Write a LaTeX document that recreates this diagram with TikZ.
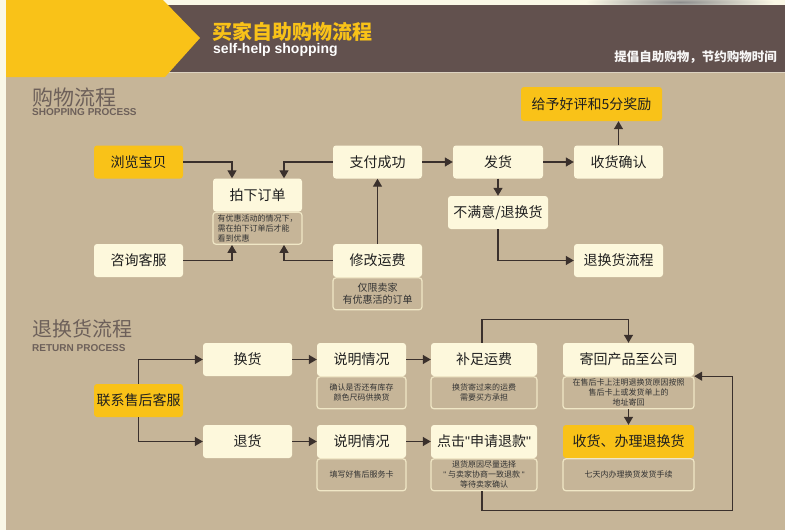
\documentclass[tikz,border=0pt]{standalone}
\usepackage{fontspec}
\setmainfont{Noto Sans CJK SC}
\newfontfamily\enfont{Liberation Sans}
\usetikzlibrary{calc,positioning,arrows.meta}

\definecolor{pagecream}{HTML}{FAF8E6}
\definecolor{bgtan}{HTML}{C6B598}
\definecolor{headbrown}{HTML}{62514E}
\definecolor{gold}{HTML}{F9C218}
\definecolor{boxcream}{HTML}{FDF8DC}
\definecolor{noteline}{HTML}{F0E7C6}
\definecolor{ink}{HTML}{3A302C}
\definecolor{titlegray}{HTML}{6D605A}

\newcommand\dq{{\enfont"}}

\tikzset{
  stepbox/.style={fill=boxcream, rounded corners=3pt, minimum width=89pt, minimum height=33pt,
    inner sep=0pt, text=black!88, font=\fontsize{14pt}{16pt}\selectfont},
  goldbox/.style={stepbox, fill=gold},
  notebox/.style={draw=noteline, line width=1.2pt, fill=bgtan, rounded corners=3pt,
    minimum width=89pt, minimum height=32pt, inner sep=0pt, anchor=north, align=center,
    text=black!80, font=\fontsize{8pt}{10pt}\selectfont},
  flow/.style={draw=ink, line width=1.3pt, -{Triangle[length=8pt,width=9pt]}},
  sectitle/.style={anchor=base west, inner sep=0pt, text=titlegray, font=\fontsize{21pt}{21pt}\selectfont},
  secsub/.style={anchor=base west, inner sep=0pt, text=titlegray, font=\enfont\bfseries\fontsize{10pt}{10pt}\selectfont},
}

\begin{document}
\begin{tikzpicture}[x=1pt,y=-1pt]
  \useasboundingbox (0,0) rectangle (785,530);
  \fill[pagecream] (0,0) rectangle (785,530);
  \fill[bgtan] (6,72) rectangle (785,530);

  % header
  \shade[inner color=black!45, outer color=pagecream] (680,2) ellipse (95 and 8);
  \fill[headbrown] (160,5) rectangle (785,72);
  \draw[bgtan!60!white, line width=0.8pt] (160,72.5) -- (785,72.5);
  \fill[gold] (6,0) -- (163,0) -- (200,38) -- (165,77) -- (6,77) -- cycle;

  \node[anchor=base west, inner sep=0pt, text=gold, font=\bfseries\fontsize{20pt}{20pt}\selectfont] at (212,39) (title) {买家自助购物流程};
  \node[anchor=base west, inner sep=0pt, text=white, font=\enfont\bfseries\fontsize{14pt}{14pt}\selectfont] at (213,53) (title_en) {self-help shopping};
  \node[anchor=base east, inner sep=0pt, text=white!95!headbrown, font=\bfseries\fontsize{12.5pt}{12.5pt}\selectfont] at (777,61) (slogan) {提倡自助购物，节约购物时间};

  %shopping process
  \node[sectitle] at (32,105) (shop_title) {购物流程};
  \node[secsub] at (32,115) (shop_sub) {SHOPPING PROCESS};

  \node[goldbox] at (138.5,162) (liulan) {浏览宝贝};
  \node[stepbox] at (138.5,260.5) (zixun) {咨询客服};
  \node[stepbox] at (257.5,195) (paixia) {拍下订单};
  \node[notebox, align=left] at (paixia.south) (paixia_note) {有优惠活动的情况下，\\需在拍下订单后才能\\看到优惠};
  \node[stepbox] at (377.5,162) (zhifu) {支付成功};
  \node[stepbox] at (377.5,260.5) (xiugai) {修改运费};
  \node[notebox, font=\fontsize{10pt}{12pt}\selectfont] at (xiugai.south) (xiugai_note) {仅限卖家\\有优惠活的订单};
  \node[stepbox, minimum width=90pt] at (498,162) (fahuo) {发货};
  \node[stepbox] at (618.5,162) (shouhuo) {收货确认};
  \node[goldbox, minimum width=141pt, minimum height=34pt] at (591.5,104) (haoping) {给予好评和5分奖励};
  \node[stepbox, minimum width=100pt] at (498,212.5) (bumanyi) {不满意/退换货};
  \node[stepbox] at (618.5,260.5) (tuihuan) {退换货流程};

  \draw[flow] (liulan.east) -| ([xshift=-25.5pt]paixia.north);
  \draw[flow] (zhifu.west) -| ([xshift=26.5pt]paixia.north);
  \draw[flow] (zixun.east) -| ([xshift=-25.5pt]paixia_note.south);
  \draw[flow] (xiugai.west) -| ([xshift=26.5pt]paixia_note.south);
  \draw[flow] (xiugai) -- (zhifu);
  \draw[flow] (zhifu) -- (fahuo);
  \draw[flow] (fahuo) -- (shouhuo);
  \draw[flow] (shouhuo) -- (shouhuo |- haoping.south);
  \draw[flow] (fahuo) -- (bumanyi);
  \draw[flow] (bumanyi) |- (tuihuan);

  %return process
  \node[sectitle, font=\fontsize{20pt}{20pt}\selectfont] at (32,336) (return_title) {退换货流程};
  \node[secsub] at (32,351) (return_sub) {RETURN PROCESS};

  \node[goldbox] at (138.5,400.5) (lianxi) {联系售后客服};
  \node[stepbox] at (247.5,359.5) (huanhuo) {换货};
  \node[stepbox] at (247.5,441.5) (tuihuo) {退货};
  \node[stepbox] at (361.5,359.5) (shuoming_a) {说明情况};
  \node[notebox] at (shuoming_a.south) (shuoming_a_note) {确认是否还有库存\\颜色尺码供换货};
  \node[stepbox] at (361.5,441.5) (shuoming_b) {说明情况};
  \node[notebox] at (shuoming_b.south) (shuoming_b_note) {填写好售后服务卡};
  \node[stepbox, minimum width=106pt] at (484,359.5) (buzu) {补足运费};
  \node[notebox, minimum width=106pt] at (buzu.south) (buzu_note) {换货寄过来的运费\\需要买方承担};
  \node[stepbox, minimum width=106pt] at (484,441.5) (dianji) {点击\dq 申请退款\dq};
  \node[notebox, minimum width=106pt] at (dianji.south) (dianji_note) {退货原因尽量选择\\\dq\ 与卖家协商一致退款 \dq\\等待卖家确认};
  \node[stepbox, minimum width=131pt] at (628.5,359.5) (jihui) {寄回产品至公司};
  \node[notebox, minimum width=131pt] at (jihui.south) (jihui_note) {在售后卡上注明退换货原因按照\\售后卡上或发货单上的\\地址寄回};
  \node[goldbox, minimum width=131pt] at (628.5,441.5) (banli) {收货、办理退换货};
  \node[notebox, minimum width=131pt] at (banli.south) (banli_note) {七天内办理换货发货手续};

  \draw[flow] (lianxi.north) |- (huanhuo.west);
  \draw[flow] (lianxi.south) |- (tuihuo.west);
  \draw[flow] (huanhuo) -- (shuoming_a);
  \draw[flow] (shuoming_a) -- (buzu);
  \draw[flow] (tuihuo) -- (shuoming_b);
  \draw[flow] (shuoming_b) -- (dianji);
  \draw[flow] ([xshift=-2pt]buzu.north) -- ++(0,-23) -| (jihui.north);
  \draw[flow] (jihui_note) -- (banli);
  \draw[flow] ([xshift=-2pt]dianji_note.south) -- ++(0,19) -| ([xshift=38pt]jihui.south east) -- (jihui.south east);

\end{tikzpicture}
\end{document}
